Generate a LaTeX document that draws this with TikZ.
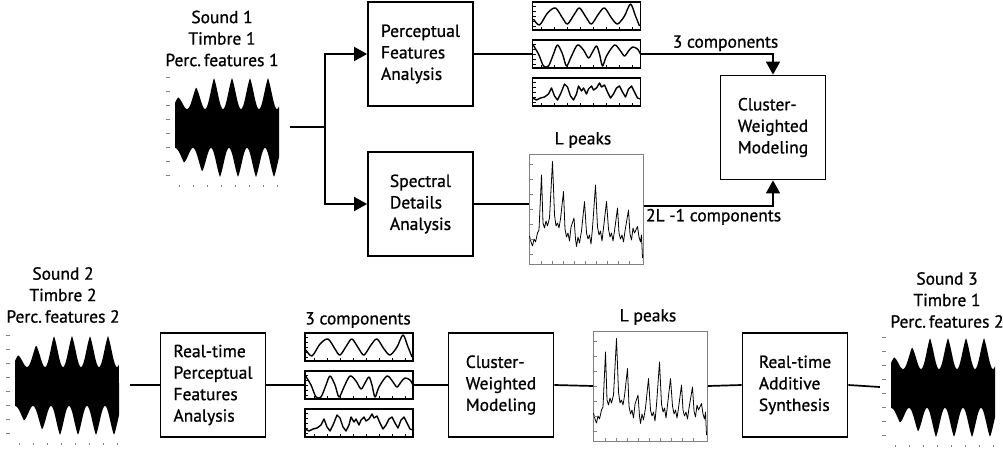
\documentclass[tikz,border=0pt]{standalone}
\usepackage{fontspec}
\setmainfont{PT Sans}[FakeBold=0.9]
\usetikzlibrary{arrows.meta}

\begin{document}
\begin{tikzpicture}[x=1pt,y=-1pt,every node/.style={font=\fontsize{17.5}{21.5}\selectfont}]
	% Styles
	\tikzstyle{boite}=[draw,line width=1.8pt,minimum width=105pt,minimum height=104pt,align=left,inner sep=0pt]
	\tikzstyle{titre}=[align=center,inner sep=0pt]
	\tikzstyle{legende}=[inner sep=2pt]
	\tikzstyle{trait}=[line width=1.7pt]
	\tikzstyle{fleche}=[trait,-{Triangle[length=13pt,width=14pt]}]
	\tikzstyle{onde}=[minimum width=126pt,minimum height=120pt,inner sep=0pt]
	\tikzstyle{panneau}=[draw,line width=1.1pt,minimum width=108pt,minimum height=28pt,inner sep=0pt]
	\tikzstyle{cadre}=[draw=gray,line width=0.6pt,minimum width=114pt,minimum height=110pt,inner sep=0pt]
	\tikzstyle{courbe}=[line width=1.4pt,line join=round]
	\tikzstyle{graduation}=[line width=0.5pt]
	\useasboundingbox (0,0) rectangle (1003,452);
	% Formes (onde, courbes, spectre)
	\def\Onde{%
		\fill plot[domain=-52:52,samples=200] (\x,{-18-min(31,10+0.55*(\x+52))*((1+cos(20*(\x+49)))/4+(1-abs(sin(10*(\x+49))))/2)})
		-- plot[domain=52:-52,samples=200] (\x,{21+min(29,10+0.5*(\x+52))*((1+cos(20*(\x+25)))/4+(1-abs(sin(10*(\x+25))))/2)}) -- cycle;
		\foreach \t in {-50,-36,...,52} \draw[gray,graduation] (-61,\t) -- (-57,\t);
		\foreach \t in {-48,-34,...,52} \draw[gray,graduation] (\t,58) -- (\t,60);}
	\def\CourbeA{\draw[courbe] plot[smooth] coordinates {(-53,3) (-47,9) (-39,-3) (-31,-8) (-24,2) (-19,8) (-12,-2) (-7,-8) (0,2) (5,8) (12,-2) (18,-8) (25,2) (31,8) (38,0) (44,-12) (49,0) (53,10)};}
	\def\CourbeB{\draw[courbe] plot[smooth] coordinates {(-54,-10) (-48,0) (-43,12) (-38,12) (-33,0) (-29,-9) (-24,0) (-20,12) (-15,2) (-9,-9) (-3,-4) (2,4) (6,-2) (10,-8) (13,0) (16,12) (20,2) (28,-9) (34,-3) (38,2) (42,-3) (46,-7) (51,-5) (54,0)};}
	\def\CourbeC{\draw[courbe] plot coordinates {(-54,6) (-50,8) (-46,6) (-42,5) (-38,2) (-35,-4) (-32,4) (-29,8) (-26,2) (-22,-8) (-19,-5) (-16,4) (-13,8) (-10,2) (-8,-6) (-5,-1) (-3,-4) (0,2) (2,-3) (5,-6) (7,-2) (10,-4) (13,-9) (15,-5) (18,-7) (21,0) (24,6) (27,2) (30,-4) (33,-6) (36,0) (39,5) (42,-3) (45,-6) (48,0) (51,6) (54,7)};}
	\def\Graduations{%
		\foreach \t in {-10,-5,...,10} \draw[graduation] (-54,\t) -- (-51,\t);
		\foreach \t in {-45,-32,...,50} \draw[graduation] (\t,14) -- (\t,11);}
	\def\Spectre{%
		\draw[line width=0.8pt,line join=round] plot coordinates {(-57,27) (-55.5,33) (-54,37) (-52.5,30) (-51,33) (-49,24) (-47.5,21) (-45,-34) (-43.5,14) (-42,19) (-40.5,12) (-39,17) (-37,9) (-34,-47.5) (-32,6) (-30.5,17) (-29,14) (-27.5,19) (-26,10) (-23,-17.5) (-21.5,20) (-20,28) (-18.5,24) (-17,32) (-15.5,18) (-12.5,9) (-11,30) (-10,37.5) (-8.5,28) (-7,34) (-5,22) (-2,-7.5) (0,24) (1.5,30) (3,26) (4.5,35) (6,19) (9,-24) (11,18) (12.5,26) (14,22) (15.5,32) (17,19) (20,-7.5) (22,20) (23.5,28) (25,24) (26.5,32) (28,22) (31,-1) (32.5,24) (34,30) (35.5,26) (37,33) (38.5,22) (42,1) (43.5,25) (45,31) (46.5,19) (48,24) (51,17.5) (52.5,28) (54,33) (55,26) (56,49)};
		\foreach \t in {-45,-34,...,50} \draw[gray,graduation] (\t,55) -- (\t,52);
		\foreach \t in {-45,-30,...,50} \draw[gray,graduation] (-57,\t) -- (-54,\t);}
	% Noeuds : ligne du haut
	\node[titre] (sonA) at (222,38.5) {Sound 1\\Timbre 1\\Perc.\,features 1};
	\node[onde] (wavA) at (227,127) {};
	\coordinate (embranch) at (325,127);
	\node[boite] (PFA) at (420.5,54) {Perceptual\\Features\\Analysis};
	\node[boite] (SDA) at (420.5,204) {Spectral\\Details\\Analysis};
	\node[panneau] (cA1) at (586.5,16) {};
	\node[panneau] (cA2) at (586.5,54) {};
	\node[panneau] (cA3) at (586.5,92) {};
	\node[cadre] (spA) at (586.5,209) {};
	\node[legende] (picsA) at (583,140) {L peaks};
	\node[boite] (CWM) at (773,127.5) {Cluster-\\Weighted\\Modeling};
	% Noeuds : ligne du bas
	\node[titre] (sonB) at (63,295) {Sound 2\\Timbre 2\\Perc.\,features 2};
	\node[onde] (wavB) at (67,385) {};
	\node[boite] (RPFA) at (213,385) {Real-time\\Perceptual\\Features\\Analysis};
	\node[panneau] (cB1) at (359,347) {};
	\node[panneau] (cB2) at (359,385) {};
	\node[panneau] (cB3) at (359,423) {};
	\node[legende] (compB) at (358,320) {3 components};
	\node[boite] (CWM2) at (501,385) {Cluster-\\Weighted\\Modeling};
	\node[cadre] (spB) at (650.5,386) {};
	\node[legende] (picsB) at (648,317) {L peaks};
	\node[boite] (RAS) at (795,385) {Real-time\\Additive\\Synthesis};
	\node[titre] (sonC) at (947,300) {Sound 3\\Timbre 1\\Perc.\,features 2};
	\node[onde] (wavC) at (943,387) {};
	% Dessins dans les noeuds
	\foreach \nom in {wavA,wavB,wavC} {\begin{scope}[shift={(\nom.center)}] \Onde \end{scope}}
	\foreach \nom/\trace in {cA1/\CourbeA,cA2/\CourbeB,cA3/\CourbeC,cB1/\CourbeA,cB2/\CourbeB,cB3/\CourbeC} {
		\begin{scope}
			\clip (\nom.south west) rectangle (\nom.north east);
			\begin{scope}[shift={(\nom.center)}] \trace \Graduations \end{scope}
		\end{scope}}
	\foreach \nom in {spA,spB} {\begin{scope}[shift={(\nom.center)}] \Spectre \end{scope}}
	% Arcs
	\draw[trait] (wavA.east) -- (embranch);
	\draw[fleche] (embranch) |- (PFA.west);
	\draw[fleche] (embranch) |- (SDA.west);
	\draw[trait] (PFA.east) -- (cA2.west);
	\draw[trait] (SDA.east) -- (SDA.east -| spA.west);
	\draw[fleche] (cA2.east) -| node[legende,pos=0.32,above]{3 components} (CWM.north);
	\draw[fleche] ([yshift=3pt]spA.east) -| node[legende,pos=0.27,below]{2L -1 components} (CWM.south);
	\draw[trait] (wavB.east) -- (RPFA.west);
	\draw[trait] (RPFA.east) -- (cB2.west);
	\draw[trait] (cB2.east) -- (CWM2.west);
	\draw[trait] (CWM2.east) -- (spB.west);
	\draw[trait] (spB.east) -- (RAS.west);
	\draw[trait] (RAS.east) -- (wavC.west);
\end{tikzpicture}
\end{document}
